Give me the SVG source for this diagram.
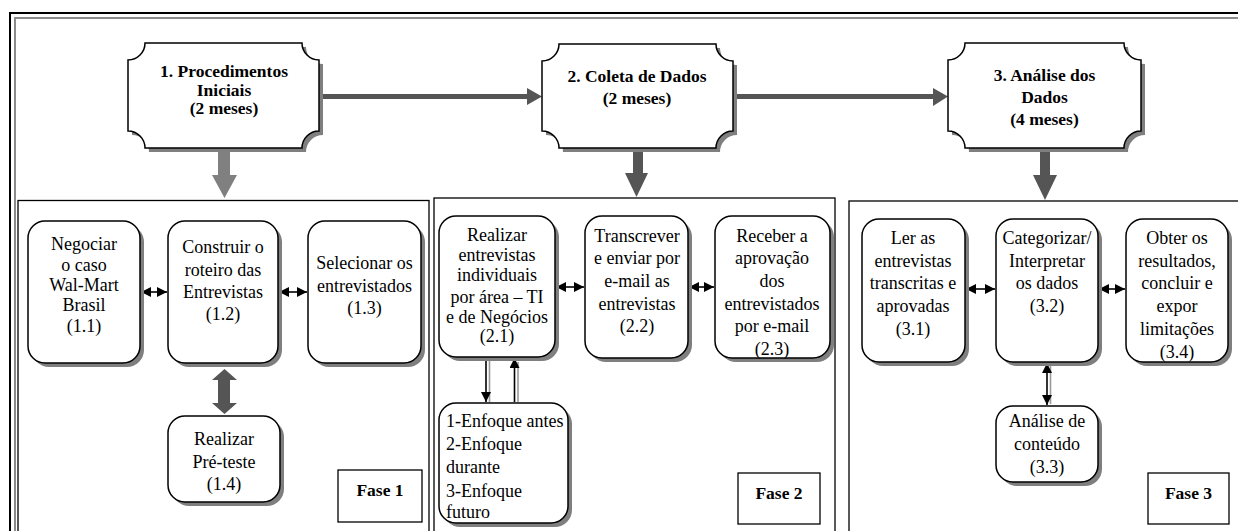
<svg xmlns="http://www.w3.org/2000/svg" width="1238" height="531" viewBox="0 0 1238 531" font-family="Liberation Serif, Tinos, Times New Roman, DejaVu Serif, serif">
<style>
text{font-family:'Liberation Serif','Tinos','Times New Roman','DejaVu Serif',serif;fill:#000}
.t{font-size:18px;text-anchor:middle}
.tl{font-size:18px}
.h{font-size:17.5px;font-weight:bold;text-anchor:middle}
.nd{fill:#fff;stroke:#000;stroke-width:1.5}
.sh{fill:#7f7f7f}
.pn{fill:none;stroke:#000;stroke-width:1.3}
.fs{fill:#fff;stroke:#000;stroke-width:1.3}
.lk{stroke:#000;stroke-width:1.6;fill:none}
.lg{stroke:#9a9a9a;stroke-width:1.6;fill:none}
</style>
<defs>
<marker id="ah" markerUnits="userSpaceOnUse" markerWidth="11" markerHeight="11" refX="10" refY="5" orient="auto-start-reverse">
<path d="M0,0 L10,5 L0,10 z" fill="#000"/>
</marker>
</defs>
<rect width="1238" height="531" fill="#fff"/>
<g id="frame">
<rect x="10" y="13" width="1300" height="600" fill="none" stroke="#000" stroke-width="2"/>
<rect x="15" y="18" width="1300" height="600" fill="none" stroke="#8c8c8c" stroke-width="2"/>
</g>
<g id="panels">
<rect class="pn" x="18" y="200.5" width="411" height="400"/>
<rect class="pn" x="434" y="198" width="401" height="400"/>
<rect class="pn" x="849" y="201" width="420" height="400"/>
</g>
<g id="connectors">
<path d="M319,94 H527 V88 L542,96.5 L527,105 V99 H319 Z" fill="#555"/>
<path d="M733,94 H933 V88 L948,96.5 L933,106 V99 H733 Z" fill="#555"/>
<path d="M218,148 H230 V175 H237 L224.5,198 L212,175 H218 Z" fill="#808080"/>
<path d="M633,148 H643 V173 H648 L636.5,197 L625,173 H633 Z" fill="#555"/>
<path d="M1040,148 H1050 V175 H1057 L1045,200 L1033,175 H1040 Z" fill="#555"/>
<path d="M224.5,369 L237,380 H230 V403 H237 L224.5,414 L212,403 H218 V380 H212 Z" fill="#555"/>
<line class="lk" x1="141" y1="292" x2="167" y2="292" marker-start="url(#ah)" marker-end="url(#ah)"/>
<line class="lk" x1="279" y1="292" x2="307" y2="292" marker-start="url(#ah)" marker-end="url(#ah)"/>
<line class="lk" x1="556" y1="287" x2="584" y2="287" marker-start="url(#ah)" marker-end="url(#ah)"/>
<line class="lk" x1="689" y1="287" x2="714" y2="287" marker-start="url(#ah)" marker-end="url(#ah)"/>
<line class="lk" x1="966" y1="289" x2="995" y2="289" marker-start="url(#ah)" marker-end="url(#ah)"/>
<line class="lk" x1="1099" y1="289" x2="1125" y2="289" marker-start="url(#ah)" marker-end="url(#ah)"/>
<line class="lg" x1="489.5" y1="360" x2="489.5" y2="402"/>
<line class="lk" x1="486" y1="358" x2="486" y2="402" marker-end="url(#ah)"/>
<line class="lg" x1="518" y1="362" x2="518" y2="402"/>
<line class="lk" x1="514.5" y1="402" x2="514.5" y2="358" marker-end="url(#ah)"/>
<line class="lg" x1="1050.5" y1="366" x2="1050.5" y2="404"/>
<line class="lk" x1="1047" y1="363" x2="1047" y2="405" marker-start="url(#ah)" marker-end="url(#ah)"/>
</g>
<g id="h1">
<path class="sh" transform="translate(4,4)" d="M145,43 H302 A17 17 0 0 0 319,60 V131 A17 17 0 0 0 302,148 H145 A17 17 0 0 0 128,131 V60 A17 17 0 0 0 145,43 Z"/>
<path class="nd" d="M145,43 H302 A17 17 0 0 0 319,60 V131 A17 17 0 0 0 302,148 H145 A17 17 0 0 0 128,131 V60 A17 17 0 0 0 145,43 Z"/>
<text class="h" x="224" y="77">1. Procedimentos</text>
<text class="h" x="224" y="96">Iniciais</text>
<text class="h" x="224" y="114">(2 meses)</text>
</g>
<g id="h2">
<path class="sh" transform="translate(4,4)" d="M559,44 H716 A17 17 0 0 0 733,61 V131 A17 17 0 0 0 716,148 H559 A17 17 0 0 0 542,131 V61 A17 17 0 0 0 559,44 Z"/>
<path class="nd" d="M559,44 H716 A17 17 0 0 0 733,61 V131 A17 17 0 0 0 716,148 H559 A17 17 0 0 0 542,131 V61 A17 17 0 0 0 559,44 Z"/>
<text class="h" x="637" y="82">2. Coleta de Dados</text>
<text class="h" x="637" y="104">(2 meses)</text>
</g>
<g id="h3">
<path class="sh" transform="translate(4,4)" d="M965,43 H1124 A17 17 0 0 0 1141,60 V131 A17 17 0 0 0 1124,148 H965 A17 17 0 0 0 948,131 V60 A17 17 0 0 0 965,43 Z"/>
<path class="nd" d="M965,43 H1124 A17 17 0 0 0 1141,60 V131 A17 17 0 0 0 1124,148 H965 A17 17 0 0 0 948,131 V60 A17 17 0 0 0 965,43 Z"/>
<text class="h" x="1044.5" y="81">3. Análise dos</text>
<text class="h" x="1044.5" y="103">Dados</text>
<text class="h" x="1044.5" y="125">(4 meses)</text>
</g>
<g id="n11">
<rect class="sh" x="32" y="225" width="112" height="142" rx="17"/>
<rect class="nd" x="28" y="221" width="112" height="142" rx="17"/>
<text class="t" x="84" y="250">Negociar</text>
<text class="t" x="84" y="270.5">o caso</text>
<text class="t" x="84" y="291">Wal-Mart</text>
<text class="t" x="84" y="311">Brasil</text>
<text class="t" x="84" y="331.5">(1.1)</text>
</g>
<g id="n12">
<rect class="sh" x="172" y="225" width="110" height="142" rx="17"/>
<rect class="nd" x="168" y="221" width="110" height="142" rx="17"/>
<text class="t" x="223" y="253">Construir o</text>
<text class="t" x="223" y="276">roteiro das</text>
<text class="t" x="223" y="298">Entrevistas</text>
<text class="t" x="223" y="320">(1.2)</text>
</g>
<g id="n13">
<rect class="sh" x="312" y="225" width="113" height="142" rx="17"/>
<rect class="nd" x="308" y="221" width="113" height="142" rx="17"/>
<text class="t" x="364.5" y="269">Selecionar os</text>
<text class="t" x="364.5" y="292">entrevistados</text>
<text class="t" x="364.5" y="314">(1.3)</text>
</g>
<g id="n14">
<rect class="sh" x="172" y="420" width="112" height="86" rx="17"/>
<rect class="nd" x="168" y="416" width="112" height="86" rx="17"/>
<text class="t" x="224" y="445">Realizar</text>
<text class="t" x="224" y="468">Pré-teste</text>
<text class="t" x="224" y="490">(1.4)</text>
</g>
<g id="fase1">
<rect class="fs" x="338" y="470" width="84" height="52"/>
<text class="h" x="380" y="496">Fase 1</text>
</g>
<g id="n21">
<rect class="sh" x="443" y="220" width="116" height="141" rx="17"/>
<rect class="nd" x="439" y="216" width="116" height="141" rx="17"/>
<text class="t" x="497" y="241">Realizar</text>
<text class="t" x="497" y="261">entrevistas</text>
<text class="t" x="497" y="281">individuais</text>
<text class="t" x="497" y="303">por área – TI</text>
<text class="t" x="497" y="323">e de Negócios</text>
<text class="t" x="497" y="342">(2.1)</text>
</g>
<g id="n22">
<rect class="sh" x="589" y="220" width="103" height="142" rx="17"/>
<rect class="nd" x="585" y="216" width="103" height="142" rx="17"/>
<text class="t" x="637" y="242">Transcrever</text>
<text class="t" x="637" y="264">e enviar por</text>
<text class="t" x="637" y="287">e-mail as</text>
<text class="t" x="637" y="310">entrevistas</text>
<text class="t" x="637" y="332">(2.2)</text>
</g>
<g id="n23">
<rect class="sh" x="719" y="220" width="115" height="142" rx="17"/>
<rect class="nd" x="715" y="216" width="115" height="142" rx="17"/>
<text class="t" x="772" y="242">Receber a</text>
<text class="t" x="772" y="264">aprovação</text>
<text class="t" x="772" y="287">dos</text>
<text class="t" x="772" y="310">entrevistados</text>
<text class="t" x="772" y="332">por e-mail</text>
<text class="t" x="772" y="355">(2.3)</text>
</g>
<g id="n2e">
<rect class="sh" x="443" y="407" width="129" height="120" rx="17"/>
<rect class="nd" x="439" y="403" width="129" height="120" rx="17"/>
<text class="tl" x="446" y="427">1-Enfoque antes</text>
<text class="tl" x="446" y="450">2-Enfoque</text>
<text class="tl" x="446" y="473">durante</text>
<text class="tl" x="446" y="497">3-Enfoque</text>
<text class="tl" x="446" y="518">futuro</text>
</g>
<g id="fase2">
<rect class="fs" x="738" y="473" width="82" height="51"/>
<text class="h" x="779" y="499">Fase 2</text>
</g>
<g id="n31">
<rect class="sh" x="866" y="223" width="103" height="143" rx="17"/>
<rect class="nd" x="862" y="219" width="103" height="143" rx="17"/>
<text class="t" x="913" y="244">Ler as</text>
<text class="t" x="913" y="267">entrevistas</text>
<text class="t" x="913" y="289">transcritas e</text>
<text class="t" x="913" y="312">aprovadas</text>
<text class="t" x="913" y="335">(3.1)</text>
</g>
<g id="n32">
<rect class="sh" x="1000" y="223" width="102" height="143" rx="17"/>
<rect class="nd" x="996" y="219" width="102" height="143" rx="17"/>
<text class="t" x="1047" y="244">Categorizar/</text>
<text class="t" x="1047" y="267">Interpretar</text>
<text class="t" x="1047" y="289">os dados</text>
<text class="t" x="1047" y="312">(3.2)</text>
</g>
<g id="n34">
<rect class="sh" x="1130" y="223" width="102" height="143" rx="17"/>
<rect class="nd" x="1126" y="219" width="102" height="143" rx="17"/>
<text class="t" x="1177" y="244">Obter os</text>
<text class="t" x="1177" y="267">resultados,</text>
<text class="t" x="1177" y="289">concluir e</text>
<text class="t" x="1177" y="312">expor</text>
<text class="t" x="1177" y="335">limitações</text>
<text class="t" x="1177" y="358">(3.4)</text>
</g>
<g id="n33">
<rect class="sh" x="1000" y="410" width="102" height="76" rx="17"/>
<rect class="nd" x="996" y="406" width="102" height="76" rx="17"/>
<text class="t" x="1047" y="427">Análise de</text>
<text class="t" x="1047" y="450">conteúdo</text>
<text class="t" x="1047" y="473">(3.3)</text>
</g>
<g id="fase3">
<rect class="fs" x="1148" y="473" width="81" height="51"/>
<text class="h" x="1188.5" y="499">Fase 3</text>
</g>
</svg>
